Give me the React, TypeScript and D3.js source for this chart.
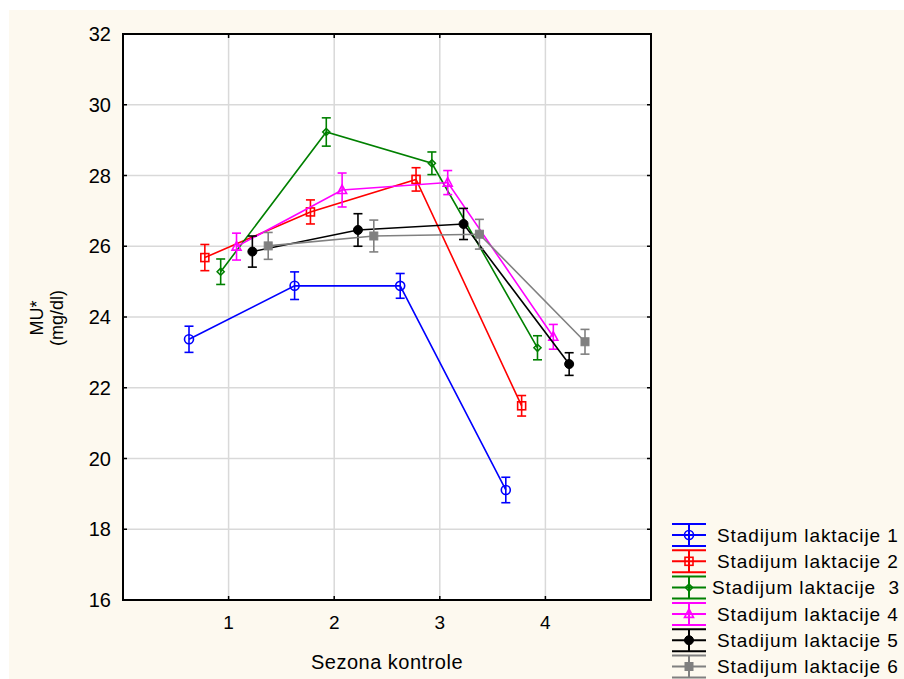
import React from "react";
import * as d3 from "d3";

const seasons = [1, 2, 3, 4];
const seriesNames = [
  "Stadijum laktacije 1",
  "Stadijum laktacije 2",
  "Stadijum laktacije  3",
  "Stadijum laktacije 4",
  "Stadijum laktacije 5",
  "Stadijum laktacije 6",
];
const means1 = [23.37, 24.885, 24.88, 19.11];
const means2 = [25.68, 26.97, 27.89, 21.49];
const means3 = [25.28, 29.23, 28.345, 23.13];
const means4 = [25.99, 27.59, 27.8, 23.44];
const means5 = [25.85, 26.46, 26.63, 22.67];
const means6 = [26.01, 26.29, 26.34, 23.3];
const err1 = [0.37, 0.39, 0.35, 0.36];
const err2 = [0.37, 0.34, 0.33, 0.29];
const err3 = [0.36, 0.4, 0.32, 0.34];
const err4 = [0.38, 0.48, 0.34, 0.35];
const err5 = [0.44, 0.46, 0.44, 0.32];
const err6 = [0.38, 0.45, 0.42, 0.35];
const yTicks = [16, 18, 20, 22, 24, 26, 28, 30, 32];
const xTicks = [1, 2, 3, 4];

const colors = ["#0000ff", "#ff0000", "#008000", "#ff00ff", "#000000", "#808080"];
const markers = ["circle", "square", "diamond", "triangle", "dot", "fsquare"];
const allMeans = [means1, means2, means3, means4, means5, means6];
const allErr = [err1, err2, err3, err4, err5, err6];
const offsets = [-0.375, -0.225, -0.075, 0.075, 0.225, 0.375];

const FONT = "'Liberation Sans', Arial, sans-serif";

function Marker({ type, x, y, color }: { type: string; x: number; y: number; color: string }) {
  const sw = 1.6;
  switch (type) {
    case "circle":
      return <circle cx={x} cy={y} r={4.5} fill="none" stroke={color} strokeWidth={sw} />;
    case "square":
      return <rect x={x - 4} y={y - 4} width={8} height={8} fill="none" stroke={color} strokeWidth={sw} />;
    case "diamond":
      return (
        <path d={`M${x},${y - 3.5}L${x + 3.5},${y}L${x},${y + 3.5}L${x - 3.5},${y}Z`} fill="none" stroke={color} strokeWidth={sw} />
      );
    case "triangle":
      return (
        <path d={`M${x},${y - 5}L${x + 4.5},${y + 3.5}L${x - 4.5},${y + 3.5}Z`} fill="none" stroke={color} strokeWidth={sw} />
      );
    case "dot":
      return <circle cx={x} cy={y} r={4.5} fill={color} stroke={color} strokeWidth={1} />;
    case "fsquare":
      return <rect x={x - 4} y={y - 4} width={8} height={8} fill={color} stroke={color} strokeWidth={1} />;
  }
  return null;
}

export default function App() {
  const W = 904;
  const H = 679;
  const left = 123;
  const right = 651;
  const top = 34;
  const bottom = 600;
  const x = d3.scaleLinear().domain([0, 5]).range([left, right]);
  const y = d3.scaleLinear().domain([16, 32]).range([bottom, top]);
  const line = d3
    .line<[number, number]>()
    .x((d) => d[0])
    .y((d) => d[1]);

  const capW = 4.5;
  const legendY0 = 535;
  const legendStep = 26.3;

  return (
    <svg width={W} height={H} style={{ position: "absolute", left: 0, top: 0 }} fontFamily={FONT}>
      <rect x={0} y={0} width={W} height={H} fill="#ffffff" />
      <rect x={9} y={10} width={W - 9} height={H - 10} fill="#fdf9ef" />
      <rect x={left} y={top} width={right - left} height={bottom - top} fill="#ffffff" />
      {/* grid */}
      {yTicks.slice(1, -1).map((t) => (
        <line key={"gy" + t} x1={left} x2={right} y1={y(t)} y2={y(t)} stroke="#d9d9d9" strokeWidth={1.5} />
      ))}
      {xTicks.map((t) => (
        <line key={"gx" + t} x1={x(t)} x2={x(t)} y1={top} y2={bottom} stroke="#d9d9d9" strokeWidth={1.5} />
      ))}
      {/* series */}
      {allMeans.map((m, i) => {
        const pts: [number, number][] = m.map((v, j) => [x(seasons[j] + offsets[i]), y(v)]);
        return (
          <g key={"s" + i}>
            <path d={line(pts) || ""} fill="none" stroke={colors[i]} strokeWidth={1.6} />
            {m.map((v, j) => {
              const cx = x(seasons[j] + offsets[i]);
              const e = allErr[i][j];
              const y1 = y(v + e);
              const y2 = y(v - e);
              return (
                <g key={j} stroke={colors[i]} strokeWidth={1.6}>
                  <line x1={cx} x2={cx} y1={y1} y2={y2} />
                  <line x1={cx - capW} x2={cx + capW} y1={y1} y2={y1} />
                  <line x1={cx - capW} x2={cx + capW} y1={y2} y2={y2} />
                </g>
              );
            })}
            {m.map((v, j) => (
              <Marker key={"m" + j} type={markers[i]} x={x(seasons[j] + offsets[i])} y={y(v)} color={colors[i]} />
            ))}
          </g>
        );
      })}
      {/* frame */}
      <rect x={left} y={top} width={right - left} height={bottom - top} fill="none" stroke="#000" strokeWidth={2} />
      {yTicks.map((t) => (
        <g key={"ty" + t}>
          <line x1={left} x2={left + 4} y1={y(t)} y2={y(t)} stroke="#000" strokeWidth={1.5} />
          <line x1={right - 4} x2={right} y1={y(t)} y2={y(t)} stroke="#000" strokeWidth={1.5} />
          <text x={111} y={y(t)} dy="0.35em" textAnchor="end" fontSize={20} fill="#000">
            {t}
          </text>
        </g>
      ))}
      {xTicks.map((t) => (
        <g key={"tx" + t}>
          <line x1={x(t)} x2={x(t)} y1={bottom - 4} y2={bottom} stroke="#000" strokeWidth={1.5} />
          <line x1={x(t)} x2={x(t)} y1={top} y2={top + 4} stroke="#000" strokeWidth={1.5} />
          <text x={x(t)} y={622} dy="0.35em" textAnchor="middle" fontSize={19} fill="#000">
            {t}
          </text>
        </g>
      ))}
      <text x={(left + right) / 2} y={662} dy="0.35em" textAnchor="middle" fontSize={20} letterSpacing={0.5} fill="#000">
        Sezona kontrole
      </text>
      <g transform="translate(37,318) rotate(-90)">
        <text x={0} y={0} dy="0.35em" textAnchor="middle" fontSize={18} fill="#000">
          MU*
        </text>
      </g>
      <g transform="translate(57,318) rotate(-90)">
        <text x={0} y={0} dy="0.35em" textAnchor="middle" fontSize={18} fill="#000">
          (mg/dl)
        </text>
      </g>
      {/* legend */}
      {seriesNames.map((name, i) => {
        const cy = legendY0 + i * legendStep;
        const c = colors[i];
        return (
          <g key={"l" + i}>
            <g stroke={c} strokeWidth={2}>
              <line x1={672} x2={706} y1={cy - 11} y2={cy - 11} />
              <line x1={672} x2={706} y1={cy} y2={cy} />
              <line x1={672} x2={706} y1={cy + 11} y2={cy + 11} />
              <line x1={689} x2={689} y1={cy - 11} y2={cy + 11} />
            </g>
            <Marker type={markers[i]} x={689} y={cy} color={c} />
            <text
              x={i === 2 ? 712 : 717}
              y={cy}
              dy="0.35em"
              fontSize={19}
              letterSpacing={0.9}
              fill="#000"
              style={{ whiteSpace: "pre" }}
            >
              {name}
            </text>
          </g>
        );
      })}
    </svg>
  );
}
